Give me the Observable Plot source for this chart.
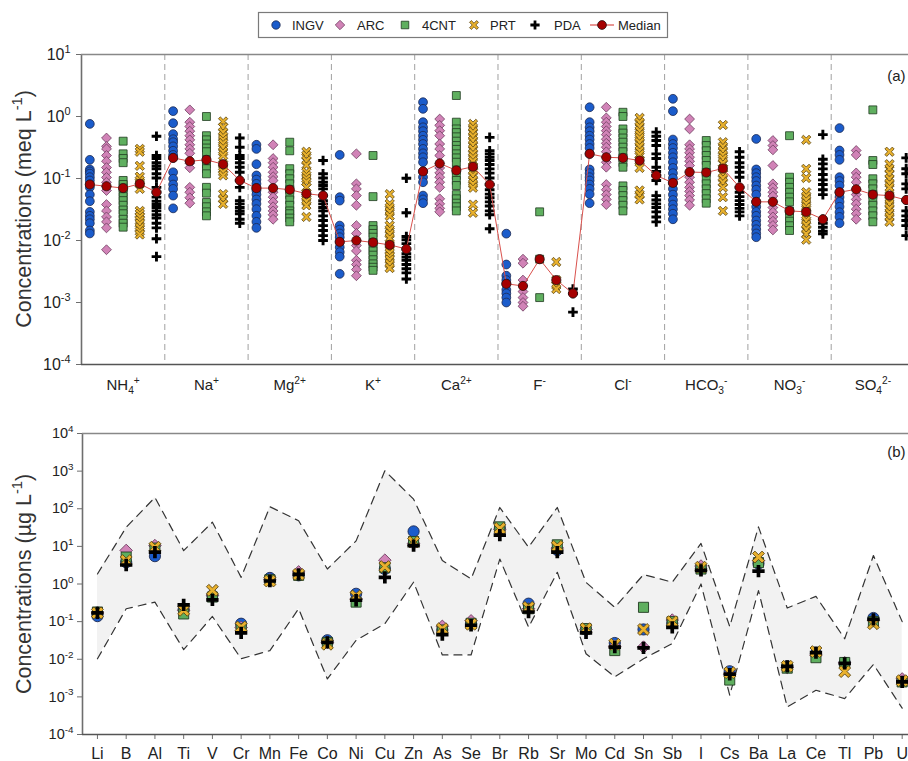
<!DOCTYPE html>
<html><head><meta charset="utf-8">
<script src="https://cdn.jsdelivr.net/npm/d3@7"></script>
<script src="https://cdn.jsdelivr.net/npm/@observablehq/plot@0.6"></script>
<style>
body{margin:0;background:#fff;width:908px;height:761px;overflow:hidden;position:relative;font-family:"Liberation Sans",Arial,sans-serif;}
#legend{position:absolute;left:0;top:0;}
#pa{position:absolute;left:0;top:40px;}
#pb{position:absolute;left:0;top:400px;}
</style></head><body>
<div id="legend"></div><div id="pa"></div><div id="pb"></div>
<script>
// ---------------- DATA ----------------
const labs = ["INGV", "ARC", "4CNT", "PRT", "PDA"];
const ions = ["NH_{4}^{+}", "Na^{+}", "Mg^{2+}", "K^{+}", "Ca^{2+}", "F^{-}", "Cl^{-}", "HCO_{3}^{-}", "NO_{3}^{-}", "SO_{4}^{2-}"];

// panel (a): concentrations (meq/L) per ion, per laboratory
const ingvIons = [
  [0.76,0.20,0.14,0.13,0.12,0.105,0.093,0.08,0.072,0.055,0.043,0.029,0.025,0.022,0.019,0.0145,0.013],
  [1.22,0.78,0.52,0.43,0.385,0.33,0.28,0.24,0.215,0.126,0.099,0.08,0.068,0.053,0.033],
  [0.35,0.30,0.17,0.112,0.096,0.082,0.07,0.064,0.055,0.046,0.039,0.032,0.025,0.02,0.016],
  [0.24,0.05,0.044,0.0174,0.015,0.013,0.0113,0.0095,0.0078,0.0065,0.0055,0.0029],
  [1.7,1.33,0.81,0.67,0.58,0.49,0.42,0.36,0.30,0.255,0.22,0.183,0.13,0.105,0.087,0.053,0.046,0.04],
  [0.0129,0.0041,0.0027,0.0023,0.002,0.0016,0.0014,0.0012,0.001],
  [1.41,0.81,0.67,0.58,0.49,0.425,0.36,0.31,0.25,0.14,0.122,0.105,0.093,0.08,0.068,0.056,0.04],
  [1.93,1.22,0.425,0.36,0.31,0.26,0.22,0.183,0.148,0.122,0.101,0.085,0.068,0.055,0.045,0.038,0.032,0.027,0.022],
  [0.435,0.14,0.122,0.105,0.091,0.077,0.066,0.055,0.042,0.035,0.029,0.025,0.021,0.0179,0.0152,0.013,0.0113],
  [0.65,0.283,0.24,0.2,0.105,0.091,0.077,0.06,0.05,0.042,0.035,0.0286,0.024,0.019]
];
const arcIons = [
  [0.45,0.33,0.30,0.235,0.19,0.15,0.126,0.104,0.087,0.075,0.064,0.038,0.030,0.024,0.020,0.016,0.0071],
  [1.28,0.81,0.69,0.58,0.49,0.42,0.35,0.30,0.255,0.19,0.177,0.149,0.072,0.06,0.049,0.04],
  [0.35,0.21,0.18,0.152,0.126,0.107,0.093,0.07,0.06,0.05,0.042,0.035,0.03,0.026,0.022],
  [0.25,0.082,0.068,0.053,0.037,0.0174,0.013,0.01,0.0083,0.0068,0.0048,0.0041,0.0034,0.0027],
  [0.91,0.72,0.59,0.49,0.36,0.30,0.235,0.175,0.148,0.123,0.105,0.087,0.072,0.047,0.039,0.033,0.029],
  [0.005,0.0043,0.0023,0.00185,0.0015,0.0012,0.001,0.00087],
  [1.41,0.95,0.81,0.69,0.59,0.51,0.43,0.37,0.32,0.27,0.22,0.183,0.152,0.08,0.066,0.055,0.046,0.038],
  [0.91,0.63,0.35,0.30,0.26,0.22,0.19,0.162,0.127,0.105,0.087,0.072,0.062,0.053,0.045,0.037],
  [0.41,0.34,0.29,0.162,0.082,0.071,0.06,0.052,0.042,0.034,0.0286,0.024,0.0205,0.0175,0.0148],
  [0.283,0.24,0.123,0.105,0.087,0.067,0.055,0.046,0.039,0.032,0.027,0.022]
];
const cntIons = [
  [0.40,0.25,0.21,0.18,0.093,0.08,0.07,0.06,0.051,0.044,0.037,0.031,0.027,0.022,0.019,0.0164],
  [1.0,0.49,0.42,0.36,0.31,0.27,0.2,0.17,0.144,0.119,0.072,0.058,0.041,0.035,0.029,0.025],
  [0.385,0.28,0.144,0.119,0.099,0.082,0.066,0.055,0.045,0.037,0.03,0.027,0.023,0.02],
  [0.235,0.051,0.0174,0.015,0.013,0.0113,0.0093,0.0078,0.0068,0.0058,0.0049,0.0042,0.0037,0.0033],
  [2.18,0.81,0.63,0.55,0.47,0.40,0.34,0.295,0.25,0.215,0.183,0.135,0.112,0.093,0.077,0.055,0.047,0.04,0.035,0.03],
  [0.029,0.005,0.0012],
  [1.17,1.0,0.63,0.54,0.45,0.385,0.32,0.27,0.215,0.18,0.152,0.076,0.064,0.053,0.044,0.037,0.03],
  [0.41,0.34,0.28,0.235,0.195,0.162,0.125,0.099,0.082,0.068,0.057,0.047,0.04],
  [0.49,0.105,0.087,0.072,0.06,0.05,0.042,0.03,0.0245,0.0205,0.0173,0.0145],
  [1.28,0.195,0.168,0.099,0.082,0.068,0.055,0.044,0.037,0.03,0.025,0.02]
];
const prtIons = [
  [0.30,0.27,0.16,0.107,0.093,0.082,0.068,0.03,0.027,0.024,0.021,0.0187,0.016,0.014,0.0125],
  [0.83,0.67,0.56,0.48,0.42,0.37,0.32,0.27,0.235,0.17,0.144,0.127,0.112,0.056,0.047,0.039],
  [0.27,0.235,0.195,0.165,0.127,0.112,0.099,0.088,0.072,0.057,0.05,0.043,0.037,0.024],
  [0.056,0.039,0.034,0.029,0.025,0.0174,0.015,0.0128,0.011,0.0085,0.0071,0.0063,0.0055,0.0049,0.0042,0.0036],
  [0.76,0.66,0.56,0.48,0.41,0.35,0.30,0.255,0.22,0.19,0.155,0.132,0.112,0.095,0.082,0.071,0.038,0.028],
  [0.0045,0.0023,0.0019,0.00165],
  [0.95,0.81,0.69,0.59,0.51,0.45,0.385,0.33,0.28,0.245,0.195,0.148,0.064,0.055,0.046],
  [0.73,0.385,0.33,0.28,0.24,0.21,0.178,0.145,0.119,0.102,0.087,0.072,0.05,0.03],
  [0.42,0.143,0.102,0.06,0.052,0.045,0.039,0.034,0.029,0.024,0.021,0.0179,0.0152,0.0128,0.0103],
  [0.27,0.17,0.144,0.119,0.099,0.084,0.072,0.053,0.045,0.039,0.033,0.028,0.024,0.02]
];
const pdaIons = [
  [0.48,0.235,0.21,0.18,0.16,0.144,0.119,0.102,0.072,0.06,0.05,0.043,0.038,0.034,0.03,0.026,0.023,0.019,0.016,0.0107,0.0055],
  [0.45,0.32,0.235,0.21,0.18,0.152,0.126,0.093,0.072,0.044,0.039,0.034,0.03,0.027,0.022,0.019],
  [0.195,0.119,0.102,0.087,0.077,0.068,0.053,0.044,0.039,0.034,0.03,0.025,0.021,0.0174,0.0145,0.012,0.01],
  [0.101,0.028,0.0116,0.0103,0.0089,0.0073,0.0061,0.0054,0.0048,0.0041,0.0035,0.003,0.0024],
  [0.46,0.28,0.25,0.22,0.195,0.168,0.143,0.122,0.102,0.08,0.066,0.056,0.049,0.042,0.036,0.03,0.026,0.0155],
  [0.00165,0.0014,0.0007],
  [0.56,0.48,0.41,0.34,0.25,0.21,0.152,0.13,0.112,0.093,0.053,0.045,0.039,0.034,0.029,0.024,0.02],
  [0.27,0.22,0.18,0.152,0.126,0.105,0.072,0.06,0.051,0.044,0.038,0.033,0.029,0.025],
  [0.51,0.204,0.172,0.143,0.116,0.095,0.08,0.066,0.055,0.022,0.019,0.0164,0.0141,0.0128],
  [0.215,0.144,0.119,0.082,0.068,0.045,0.03,0.025,0.021,0.0174,0.012]
];
// medians per ion, lab order INGV, ARC, 4CNT, PRT, PDA
const medianIons = [
  [0.08,0.075,0.07,0.082,0.06],
  [0.215,0.19,0.2,0.17,0.093],
  [0.07,0.07,0.066,0.057,0.053],
  [0.0095,0.01,0.0093,0.0085,0.0073],
  [0.13,0.175,0.135,0.155,0.08],
  [0.002,0.00185,0.005,0.0023,0.0014],
  [0.25,0.22,0.215,0.195,0.112],
  [0.085,0.127,0.125,0.145,0.072],
  [0.042,0.042,0.03,0.029,0.022],
  [0.06,0.067,0.055,0.053,0.045]
];

// panel (b): trace elements (µg/L)
const elements = ["Li","B","Al","Ti","V","Cr","Mn","Fe","Co","Ni","Cu","Zn","As","Se","Br","Rb","Sr","Mo","Cd","Sn","Sb","I","Cs","Ba","La","Ce","Tl","Pb","U"];
const ingvTrace = [0.14,3.8,5.5,0.21,0.5,0.088,1.45,1.7,0.032,0.55,2.5,25,0.06,0.09,30,0.3,8,0.062,0.027,0.062,0.09,2.6,0.0048,3.5,0.0065,0.014,0.008,0.125,0.0027];
const arcTrace  = [0.17,7.8,10.5,0.2,0.5,0.07,1.3,2.1,0.028,0.4,4.3,12,0.075,0.105,28,0.22,9,0.062,0.022,0.021,0.11,3.0,0.004,4.2,0.006,0.013,0.008,0.11,0.003];
const cntTrace  = [0.18,5.2,9.0,0.16,0.45,0.065,1.3,1.7,0.028,0.33,2.7,13.5,0.06,0.09,33,0.22,11,0.065,0.017,0.24,0.1,2.5,0.0028,3.7,0.0058,0.011,0.0082,0.1,0.0025];
const prtTrace  = [0.17,4.2,9.5,0.2,0.68,0.072,1.2,1.8,0.025,0.48,2.9,13,0.065,0.085,30,0.24,10,0.065,0.025,0.062,0.1,2.8,0.0044,5.2,0.0065,0.016,0.0047,0.088,0.0027];
const pdaTrace  = [0.17,3.2,7.0,0.28,0.38,0.05,1.2,1.8,0.028,0.37,1.5,10.5,0.045,0.08,20,0.18,7,0.05,0.021,0.02,0.07,2.3,0.004,2.2,0.0065,0.015,0.0078,0.115,0.0025];
const bandUpper = [1.85,32,200,7.7,44,1.5,113,48,2.5,14,1020,180,4.2,1.37,108,9.5,108,1.1,0.24,1.78,1.12,12,0.074,33,0.23,0.47,0.035,5.7,0.1];
const bandLower = [0.0103,0.22,0.33,0.018,0.137,0.0103,0.017,0.22,0.003,0.032,0.088,1.12,0.013,0.013,4.6,0.071,2.05,0.014,0.0034,0.0103,0.026,1.0,0.0011,0.67,0.00054,0.0015,0.0009,0.0073,0.0005];

// ---------------- STYLE ----------------
const FONT = "Liberation Sans, Arial, Helvetica, sans-serif";
function polySym(pts) {
  return {draw(ctx, size) {
    const r = Math.sqrt(size / Math.PI);
    pts.forEach(([x, y], i) => i ? ctx.lineTo(x * r, y * r) : ctx.moveTo(x * r, y * r));
    ctx.closePath();
  }};
}
const c = Math.SQRT1_2;
function crossPts(L, w, rot) {
  const p = [[-L,-w],[-w,-w],[-w,-L],[w,-L],[w,-w],[L,-w],[L,w],[w,w],[w,L],[-w,L],[-w,w],[-L,w]];
  return rot ? p.map(([x,y]) => [(x - y) * c, (x + y) * c]) : p;
}
const symDiamond = polySym([[0,-1.12],[1.12,0],[0,1.12],[-1.12,0]]);
const symSquare = polySym([[-0.9,-0.9],[0.9,-0.9],[0.9,0.9],[-0.9,0.9]]);
const symX = polySym(crossPts(1.2, 0.3, true));
const symPlus = polySym(crossPts(1.1, 0.33, false));
const labStyles = [
  {symbol: "circle", fill: "#1b5ccb", stroke: "#1c2850"},
  {symbol: symDiamond, fill: "#d183b7", stroke: "#6e3e60"},
  {symbol: symSquare, fill: "#5faf5f", stroke: "#203a20"},
  {symbol: symX, fill: "#e9b12d", stroke: "#5c4612"},
  {symbol: symPlus, fill: "#000", stroke: "none"}
];
const labIons = [ingvIons, arcIons, cntIons, prtIons, pdaIons];
const labTrace = [ingvTrace, arcTrace, cntTrace, prtTrace, pdaTrace];

// rich text helper: "NH_{4}^{+}"
function rich(el, str, fs) {
  const sel = d3.select(el); sel.text(null);
  const re = /([_^])\{([^}]*)\}|([^_^]+)/g; let m, cur = 0;
  while ((m = re.exec(str))) {
    let target = 0, txt = m[3], size = null;
    if (m[1] === "^") { target = -0.42 * fs; txt = m[2]; size = 0.68 * fs; }
    else if (m[1] === "_") { target = 0.28 * fs; txt = m[2]; size = 0.68 * fs; }
    const t = sel.append("tspan").attr("dy", target - cur).text(txt);
    if (size) t.attr("font-size", size);
    cur = target;
  }
}
function fixTicks(svg, which, fs) {
  d3.select(svg).selectAll(`g[aria-label="${which}-axis tick label"]`).attr("font-size", fs)
    .selectAll("text").each(function() { rich(this, this.textContent, fs); });
}
const logFmt = d => `10^{${Math.round(Math.log10(d))}}`;

// ---------------- PANEL (a) ----------------
const ptsA = labs.map((lab, k) => labIons[k].flatMap((arr, g) => arr.map(v => ({x: g * 5 + k + 0.5, v}))));
const medA = medianIons.flatMap((arr, g) => arr.map((v, k) => ({x: g * 5 + k + 0.5, v})));
const frameCol = "#6e6e6e";
const chartA = Plot.plot({
  width: 908, height: 360, marginLeft: 81, marginRight: 0, marginTop: 14, marginBottom: 36,
  style: {fontFamily: FONT, color: "#222", background: "transparent"},
  x: {domain: [0, 49.64]},
  y: {type: "log", domain: [1e-4, 10]},
  marks: [
    Plot.ruleX(d3.range(5, 50, 5), {stroke: "#a0a0a0", strokeDasharray: "6,4", strokeWidth: 1}),
    Plot.axisY({ticks: [1e-4, 1e-3, 1e-2, 1e-1, 1, 10], tickFormat: logFmt, tickSize: 5, tickPadding: 6, label: null, stroke: frameCol}),
    Plot.axisX({ticks: d3.range(2.5, 50, 5), tickFormat: d => ions[Math.round((d - 2.5) / 5)], tickSize: 0, tickPadding: 15, label: null}),
    ...labs.map((lab, k) => Plot.dot(ptsA[k], {x: "x", y: "v", r: 4.4, strokeWidth: 0.8, ...labStyles[k]})),
    Plot.line(medA, {x: "x", y: "v", stroke: "#d9504c", strokeWidth: 1}),
    Plot.dot(medA, {x: "x", y: "v", r: 4.6, fill: "#a50000", stroke: "#2a1010", strokeWidth: 0.8}),
    Plot.ruleX([0], {stroke: frameCol, strokeWidth: 1.6}),
    Plot.ruleY([1e-4], {stroke: "#555", strokeWidth: 1.6}),
    Plot.ruleY([10], {stroke: "#888", strokeWidth: 1.6}),
    Plot.text(["(a)"], {frameAnchor: "top-right", dx: -3, dy: 16, fontSize: 15, fill: "#222", textAnchor: "end"})
  ]
});
document.getElementById("pa").appendChild(chartA);
fixTicks(chartA, "y", 16);
fixTicks(chartA, "x", 15);
{
  const t = d3.select(chartA).append("text").attr("transform", "translate(31,169) rotate(-90)")
    .attr("text-anchor", "middle").attr("font-size", 21.5).attr("fill", "#333").attr("font-family", FONT);
  rich(t.node(), "Concentrations (meq L^{-1})", 21.5);
}

// ---------------- PANEL (b) ----------------
const bandB = elements.map((e, i) => ({i, lo: bandLower[i], hi: bandUpper[i]}));
const ptsB = labs.map((lab, k) => elements.map((e, i) => ({i, v: labTrace[k][i]})));
const chartB = Plot.plot({
  width: 908, height: 361, marginLeft: 82, marginRight: 0, marginTop: 33, marginBottom: 27,
  style: {fontFamily: FONT, color: "#222", background: "transparent"},
  x: {domain: [-0.52, 28.22]},
  y: {type: "log", domain: [1e-4, 1e4]},
  marks: [
    Plot.areaY(bandB, {x: "i", y1: "lo", y2: "hi", fill: "#f2f2f2"}),
    Plot.line(bandB, {x: "i", y: "hi", stroke: "#333", strokeWidth: 1.2, strokeDasharray: "8,6"}),
    Plot.line(bandB, {x: "i", y: "lo", stroke: "#333", strokeWidth: 1.2, strokeDasharray: "8,6"}),
    Plot.axisY({ticks: d3.range(-4, 5).map(e => Math.pow(10, e)), tickFormat: logFmt, tickSize: 5, tickPadding: 4, label: null, stroke: frameCol}),
    Plot.axisX({ticks: d3.range(29), tickFormat: d => elements[Math.round(d)], tickSize: 5, tickPadding: 8, label: null, stroke: frameCol}),
    ...labs.map((lab, k) => Plot.dot(ptsB[k], {x: "i", y: "v", r: 5.6, strokeWidth: 0.9, ...labStyles[k]})),
    Plot.ruleX([-0.52], {stroke: frameCol, strokeWidth: 1.6}),
    Plot.ruleY([1e-4], {stroke: "#555", strokeWidth: 1.6}),
    Plot.ruleY([1e4], {stroke: "#888", strokeWidth: 1.6}),
    Plot.text(["(b)"], {frameAnchor: "top-right", dx: -3, dy: 13, fontSize: 15, fill: "#222", textAnchor: "end"})
  ]
});
document.getElementById("pb").appendChild(chartB);
fixTicks(chartB, "y", 14.5);
fixTicks(chartB, "x", 16);
{
  const t = d3.select(chartB).append("text").attr("transform", "translate(31,184) rotate(-90)")
    .attr("text-anchor", "middle").attr("font-size", 21.5).attr("fill", "#333").attr("font-family", FONT);
  rich(t.node(), "Concentrations (µg L^{-1})", 21.5);
}

// ---------------- LEGEND ----------------
{
  const lg = d3.select("#legend").append("svg").attr("width", 908).attr("height", 40).style("display", "block");
  lg.append("rect").attr("x", 258.5).attr("y", 12.5).attr("width", 409).attr("height", 25)
    .attr("fill", "#fff").attr("stroke", "#7a7a7a").attr("stroke-width", 1.2);
  const iconX = [276, 340, 405, 474, 535];
  const textX = [292, 357, 422, 490, 554];
  const cy = 25;
  labs.forEach((lab, k) => {
    const s = labStyles[k];
    const type = s.symbol === "circle" ? d3.symbolCircle : s.symbol;
    lg.append("path").attr("transform", `translate(${iconX[k]},${cy})`)
      .attr("d", d3.symbol(type, Math.PI * 4.2 * 4.2)())
      .attr("fill", s.fill).attr("stroke", s.stroke).attr("stroke-width", 0.8);
    lg.append("text").attr("x", textX[k]).attr("y", cy + 4.6).attr("font-size", 13)
      .attr("font-family", FONT).attr("fill", "#222").text(lab);
  });
  lg.append("line").attr("x1", 590).attr("x2", 614).attr("y1", cy).attr("y2", cy).attr("stroke", "#d9504c").attr("stroke-width", 1.2);
  lg.append("circle").attr("cx", 602).attr("cy", cy).attr("r", 4.4).attr("fill", "#a50000").attr("stroke", "#2a1010").attr("stroke-width", 0.8);
  lg.append("text").attr("x", 618).attr("y", cy + 4.6).attr("font-size", 13).attr("font-family", FONT).attr("fill", "#222").text("Median");
}
</script>
</body></html>
